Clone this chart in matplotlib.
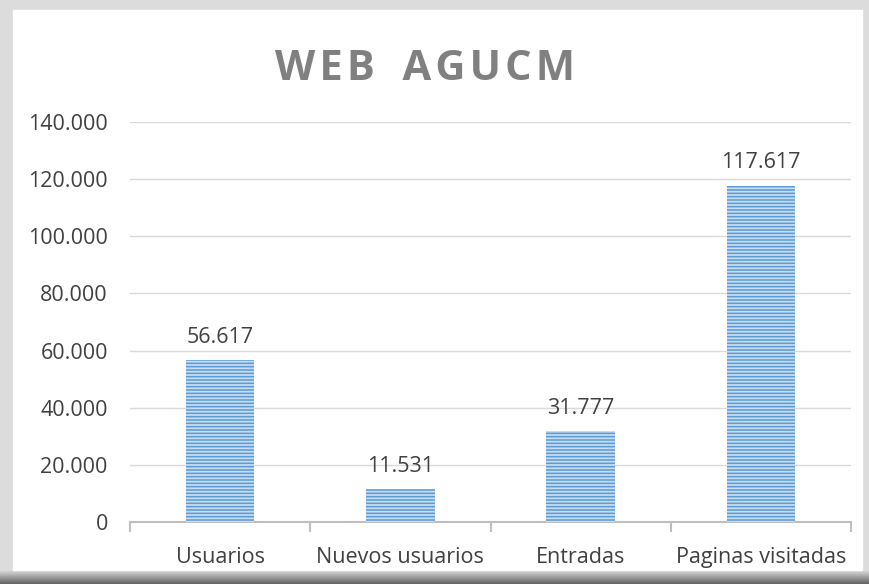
import matplotlib.pyplot as plt
from matplotlib.patches import Rectangle

# data
categorias = ["Usuarios", "Nuevos usuarios", "Entradas", "Paginas visitadas"]
valores = [56617, 11531, 31777, 117617]
yticks = [0, 20000, 40000, 60000, 80000, 100000, 120000, 140000]

def fmt(v):
    # thousands with dot, like "56.617"
    return f"{v:,}".replace(",", ".")

plt.rcParams['font.family'] = ['Open Sans', 'DejaVu Sans']
plt.rcParams['hatch.linewidth'] = 1.3

fig = plt.figure(figsize=(8.69, 5.84), dpi=100)
fig.patch.set_facecolor('#dcdcdc')

# shadow / frame around the chart area
W, H = 869, 584
for i in range(14):
    g = 0.86 - 0.035 * i
    fig.patches.append(Rectangle((0, (14 - i) / H * 1.0 - 1 / H), 1, 1 / H,
                                 transform=fig.transFigure, color=(g, g, g), zorder=0))
fig.patches.append(Rectangle((13 / W, 14 / H), (862 - 13) / W, (574 - 14) / H,
                             transform=fig.transFigure, color='white', zorder=1))

ax = fig.add_axes([130 / W, 1 - 522 / H, (851 - 130) / W, (522 - 122) / H])
ax.set_zorder(2)
ax.patch.set_alpha(0)

x = list(range(len(categorias)))
ax.bar(x, valores, width=0.38, color='#5b9bd5', linewidth=0, zorder=3)
ax.bar(x, valores, width=0.38, facecolor='none', edgecolor='#c6dcf2',
       linewidth=0, hatch='-----', zorder=4)

for xi, v in zip(x, valores):
    ax.annotate(fmt(v), (xi, v), xytext=(0, 9), textcoords='offset points',
                ha='center', va='bottom', fontsize=15.5, color='#404040')

ax.set_xlim(-0.5, len(categorias) - 0.5)
ax.set_ylim(0, 140000)
ax.set_yticks(yticks)
ax.set_yticklabels([fmt(t) for t in yticks])
ax.set_xticks(x)
ax.set_xticklabels(categorias)
ax.set_xticks([i - 0.5 for i in range(len(categorias) + 1)], minor=True)

ax.grid(axis='y', color='#d9d9d9', linewidth=1, zorder=0)
for s in ['top', 'right', 'left']:
    ax.spines[s].set_visible(False)
ax.spines['bottom'].set_color('#bfbfbf')
ax.spines['bottom'].set_linewidth(1.5)

ax.tick_params(axis='y', length=0, pad=16, labelsize=15.5, labelcolor='#404040')
ax.tick_params(axis='x', which='major', length=0, pad=18, labelsize=15.5, labelcolor='#404040')
ax.tick_params(axis='x', which='minor', length=7, width=1.5, color='#bfbfbf')

title = "\u200a".join("WEB") + "\u2009 \u2009" + "\u200a".join("AGUCM")
fig.text(425 / W, 1 - 69 / H, title, ha='center', va='center',
         fontsize=30, fontweight='bold', color='#808080', zorder=5)

fig.savefig("out.png", dpi=100, facecolor=fig.get_facecolor())
